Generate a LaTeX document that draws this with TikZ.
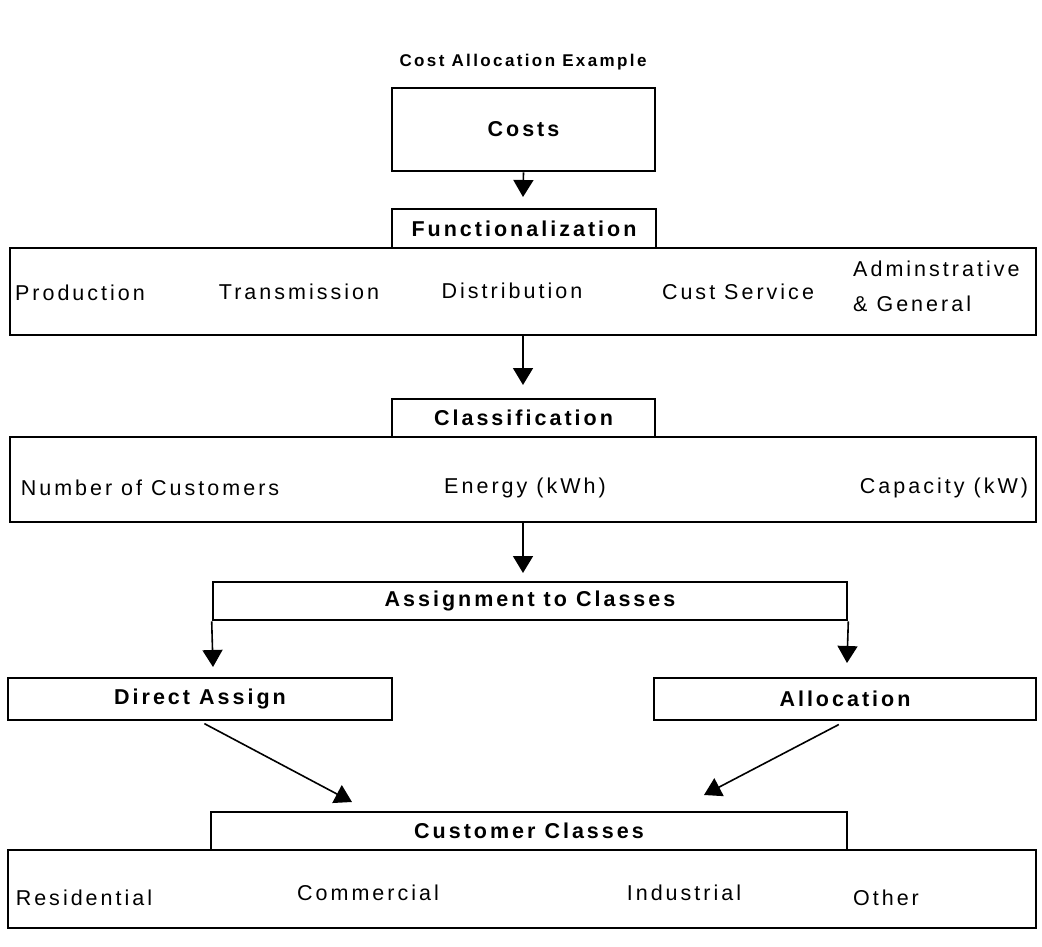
\documentclass[tikz,border=0pt]{standalone}
\usepackage{fontspec}
\setmainfont{Liberation Sans}[LetterSpace=14]
\usetikzlibrary{arrows.meta}

\begin{document}
\begin{tikzpicture}[x=1pt,y=-1pt,
  box/.style={draw,line width=2.6pt,inner sep=0pt,font=\fontsize{21.5}{26}\selectfont\bfseries},
  lbl/.style={inner sep=0pt,font=\fontsize{21.5}{35}\selectfont},
  arr/.style={line width=1.6pt,-{Triangle[width=20pt,length=17pt]}}]
\useasboundingbox (0,0) rectangle (1042,947);
\node[font=\fontsize{17}{20}\selectfont\bfseries] (title) at (523,62) {Cost Allocation Example};
\node[box,minimum width=263pt,minimum height=83pt] (costs) at (523.5,129.5) {Costs};
% functionalization
\node[box,minimum width=1026pt,minimum height=87pt] (fbig) at (523,291.5) {};
\node[box,minimum width=264pt,minimum height=39pt] (func) at (524,228.5) {Functionalization};
\node[lbl] (prod) at (80,293) {Production};
\node[lbl] (trans) at (299,292) {Transmission};
\node[lbl] (dist) at (512,291) {Distribution};
\node[lbl] (cust) at (738,292) {Cust Service};
\node[lbl,align=left,anchor=west] (adm) at (853,286) {Adminstrative\\\& General};
\coordinate (ftip) at (523,197);
\draw[arr] (costs.south) -- (ftip);
% classification
\coordinate (ctip) at (523,385);
\draw[arr] (fbig.south) -- (ctip);
\node[box,minimum width=1026pt,minimum height=85pt] (cbig) at (523,479.5) {};
\node[box,minimum width=263pt,minimum height=38pt] (class) at (523.5,418) {Classification};
\node[lbl] (ncust) at (150,488) {Number of Customers};
\node[lbl] (energy) at (525,488) {Energy (kWh)};
\node[lbl] (cap) at (944,488) {Capacity (kW)};
% assignment
\coordinate (atip) at (523,573);
\draw[arr] (cbig.south) -- (atip);
\node[box,minimum width=634pt,minimum height=38pt] (assign) at (530,601) {Assignment to Classes};
\coordinate (dtip) at (213,667);
\coordinate (ltip) at (847,663);
\draw[arr] (assign.south west) -- (dtip);
\draw[arr] (assign.south east) -- (ltip);
\node[box,minimum width=384pt,minimum height=42pt] (direct) at (200,699) {Direct Assign};
\node[box,minimum width=382pt,minimum height=42pt] (alloc) at (845,699) {Allocation};
% customer classes
\coordinate (cctipl) at (352,802);
\coordinate (cctipr) at (704,795);
\draw[arr,shorten <=5pt] (direct.south) -- (cctipl);
\draw[arr,shorten <=7pt] (alloc.south) -- (cctipr);
\node[box,minimum width=1028pt,minimum height=78pt] (ccbig) at (522,889) {};
\node[box,minimum width=636pt,minimum height=38pt] (cc) at (529,831) {Customer Classes};
\node[lbl] (res) at (84,898) {Residential};
\node[lbl] (comm) at (368,893) {Commercial};
\node[lbl] (ind) at (684,893) {Industrial};
\node[lbl] (other) at (886,898) {Other};
\end{tikzpicture}
\end{document}
